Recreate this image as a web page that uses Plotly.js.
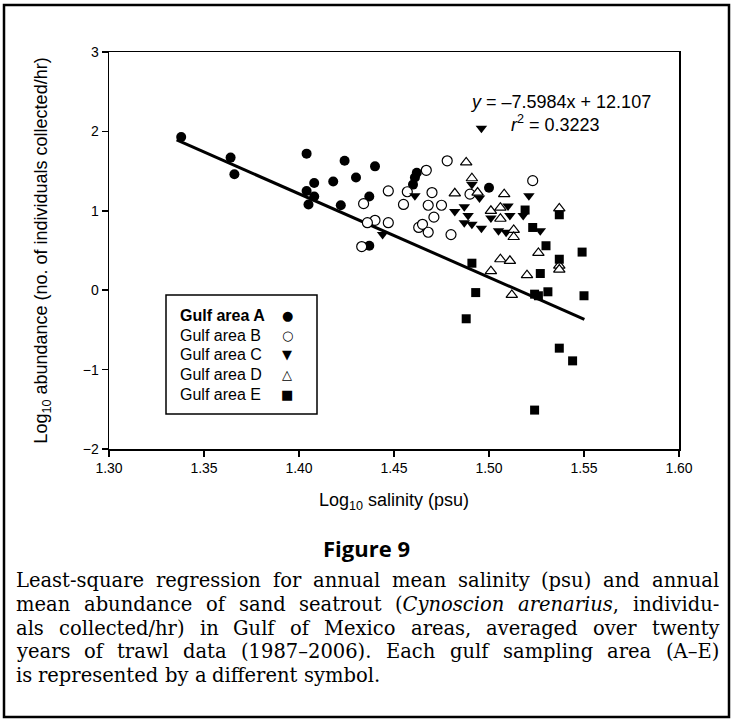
<!DOCTYPE html>
<html>
<head>
<meta charset="utf-8">
<script src="https://cdn.plot.ly/plotly-3.0.1.min.js"></script>
<style>html,body{margin:0;padding:0;background:#fff;}#chart{width:733px;height:721px;}</style>
</head>
<body>
<div id="chart"></div>
<script>
// ---- data ----
const areaA_x = [1.338,1.364,1.366,1.404,1.408,1.404,1.408,1.405,1.418,1.424,1.422,1.440,1.430,1.462,1.461,1.460,1.437,1.437,1.500];
const areaA_y = [1.93,1.67,1.46,1.72,1.35,1.25,1.18,1.08,1.37,1.63,1.07,1.56,1.42,1.48,1.42,1.33,1.18,0.56,1.29];

const areaB_x = [1.478,1.467,1.447,1.457,1.470,1.434,1.455,1.468,1.475,1.471,1.440,1.436,1.447,1.463,1.465,1.468,1.480,1.433,1.490,1.523];
const areaB_y = [1.63,1.51,1.25,1.24,1.23,1.09,1.08,1.07,1.07,0.92,0.88,0.85,0.85,0.79,0.83,0.73,0.70,0.55,1.21,1.38];

const areaC_x = [1.496,1.461,1.444,1.491,1.495,1.482,1.487,1.489,1.487,1.491,1.496,1.505,1.509,1.521,1.510,1.501,1.511,1.518,1.527];
const areaC_y = [2.04,1.19,0.70,1.33,1.16,0.99,1.05,0.94,0.85,0.83,0.78,0.75,0.73,1.19,1.06,0.91,0.94,0.94,0.75];

const areaD_x = [1.488,1.491,1.482,1.494,1.508,1.501,1.506,1.506,1.513,1.513,1.537,1.526,1.506,1.511,1.537,1.537,1.501,1.520,1.512];
const areaD_y = [1.61,1.41,1.22,1.23,1.21,1.00,1.04,0.90,0.76,0.67,1.03,0.47,0.39,0.37,0.31,0.26,0.24,0.19,-0.06];

const areaE_x = [1.519,1.537,1.523,1.530,1.549,1.491,1.537,1.527,1.493,1.526,1.531,1.550,1.488,1.537,1.544,1.524,1.524];
const areaE_y = [1.01,0.95,0.79,0.56,0.48,0.34,0.39,0.21,-0.03,-0.07,-0.02,-0.07,-0.36,-0.73,-0.89,-1.51,-0.05];

const fitX = [1.3356, 1.5502];
const fitY = [1.892, -0.366];

const legendLabels = ['Gulf area A','Gulf area B','Gulf area C','Gulf area D','Gulf area E'];
const legendGlyphs = ['\u25CF','\u25CB','\u25BC','\u25B3','\u25A0'];

const xTickVals = [1.30,1.35,1.40,1.45,1.50,1.55,1.60];
const yTickVals = [-2,-1,0,1,2,3];

const eqText = '<i>y</i> = \u20137.5984x + 12.107';
const r2Text = '<i>r</i><sup>2</sup> = 0.3223';

const figTitle = '<b>Figure 9</b>';
const captionLines = [
  'Least-square regression for annual mean salinity (psu) and annual',
  'mean abundance of sand seatrout (<i>Cynoscion arenarius</i>, individu-',
  'als collected/hr) in Gulf of Mexico areas, averaged over twenty',
  'years of trawl data (1987\u20132006). Each gulf sampling area (A\u2013E)',
  'is represented by a different symbol.'
];

// ---- layout helpers (pixel -> paper) ----
const L = 109, R = 679, T = 52, B = 449;
const W = 733, H = 721;
const pxX = p => (p - L) / (R - L);
const pxY = p => (B - p) / (B - T);

const SANS = 'Liberation Sans, Arial, sans-serif';
const SERIF = 'DejaVu Serif';
const CAP_SIZE = 19.5;

const traces = [
  {x: fitX, y: fitY, mode: 'lines', line: {color: '#000', width: 3}, hoverinfo: 'skip', showlegend: false},
  {x: areaA_x, y: areaA_y, mode: 'markers', name: legendLabels[0],
   marker: {symbol: 'circle', size: 10, color: '#000'}},
  {x: areaB_x, y: areaB_y, mode: 'markers', name: legendLabels[1],
   marker: {symbol: 'circle', size: 10, color: '#fff', line: {color: '#000', width: 1.2}}},
  {x: areaC_x, y: areaC_y, mode: 'markers', name: legendLabels[2],
   marker: {symbol: 'triangle-down', size: 10, color: '#000'}},
  {x: areaD_x, y: areaD_y, mode: 'markers', name: legendLabels[3],
   marker: {symbol: 'triangle-up', size: 10, color: '#fff', line: {color: '#000', width: 1.2}}},
  {x: areaE_x, y: areaE_y, mode: 'markers', name: legendLabels[4],
   marker: {symbol: 'square', size: 9, color: '#000'}}
];

const annotations = [];
annotations.push({xref: 'paper', yref: 'paper', x: pxX(468), y: pxY(102), xanchor: 'left', yanchor: 'middle',
  text: eqText, showarrow: false, font: {family: SANS, size: 18, color: '#000'}});
annotations.push({xref: 'paper', yref: 'paper', x: pxX(509), y: pxY(123), xanchor: 'left', yanchor: 'middle',
  text: r2Text, showarrow: false, font: {family: SANS, size: 18, color: '#000'}});

const legY = [315, 335, 354.5, 374, 394];
legendLabels.forEach((lab, i) => {
  annotations.push({xref: 'paper', yref: 'paper', x: pxX(178), y: pxY(legY[i]), xanchor: 'left', yanchor: 'middle',
    text: i === 0 ? '<b>' + lab + '</b>' : lab, showarrow: false, font: {family: SANS, size: 16, color: '#000'}});
  annotations.push({xref: 'paper', yref: 'paper', x: pxX(287), y: pxY(legY[i]), xanchor: 'center', yanchor: 'middle',
    text: legendGlyphs[i], showarrow: false, font: {family: 'DejaVu Sans', size: 13, color: '#000'}});
});

annotations.push({xref: 'paper', yref: 'paper', x: pxX(366), y: pxY(548), xanchor: 'center', yanchor: 'middle',
  text: figTitle, showarrow: false, font: {family: 'Open Sans, sans-serif', size: 22, color: '#000'}});

// caption: justified lines, word by word
const capY = [580, 604, 628, 651.5, 675];
const capLeft = 15, capRight = 718;
const cv = document.createElement('canvas').getContext('2d');
function measureWord(word, italicStart) {
  let it = italicStart, w = 0;
  const parts = word.split(/(<i>|<\/i>)/);
  parts.forEach(p => {
    if (p === '<i>') { it = true; return; }
    if (p === '</i>') { it = false; return; }
    if (!p) return;
    cv.font = (it ? 'italic ' : '') + CAP_SIZE + 'px "' + SERIF + '"';
    w += cv.measureText(p).width;
  });
  return {w: w, italicEnd: it};
}
captionLines.forEach((ln, li) => {
  const words = ln.split(' ');
  let it = false;
  const info = words.map(wd => {
    const start = it;
    const m = measureWord(wd, it);
    it = m.italicEnd;
    let txt = wd;
    if (start && !wd.startsWith('<i>')) txt = '<i>' + txt;
    if (m.italicEnd && !wd.endsWith('</i>')) txt = txt + '</i>';
    return {txt: txt, w: m.w};
  });
  cv.font = CAP_SIZE + 'px "' + SERIF + '"';
  const spaceW = cv.measureText(' ').width;
  const justify = li < captionLines.length - 1;
  const total = info.reduce((s, o) => s + o.w, 0);
  let gap = justify ? (capRight - capLeft - total) / (info.length - 1) : spaceW;
  if (gap < spaceW * 0.6) gap = spaceW * 0.6;
  let x = capLeft;
  info.forEach(o => {
    annotations.push({xref: 'paper', yref: 'paper', x: pxX(x - 1), y: pxY(capY[li]), xanchor: 'left', yanchor: 'middle',
      text: o.txt, showarrow: false, font: {family: SERIF, size: CAP_SIZE, color: '#000'}});
    x += o.w + gap;
  });
});

const shapes = [
  {type: 'rect', xref: 'paper', yref: 'paper', x0: pxX(4), x1: pxX(729), y0: pxY(5), y1: pxY(717),
   line: {color: '#000', width: 2.5}, layer: 'above'},
  {type: 'rect', xref: 'paper', yref: 'paper', x0: pxX(166), x1: pxX(317), y0: pxY(295), y1: pxY(414),
   line: {color: '#000', width: 1.5}, fillcolor: 'rgba(255,255,255,1)', layer: 'above'}
];

const layout = {
  width: W, height: H,
  margin: {l: L, r: W - R, t: T, b: H - B, pad: 0},
  paper_bgcolor: '#fff', plot_bgcolor: '#fff',
  showlegend: false,
  font: {family: SANS, color: '#000'},
  xaxis: {
    range: [1.30, 1.60], tickvals: xTickVals, tickformat: '.2f',
    showgrid: false, zeroline: false, showline: true, linecolor: '#000', linewidth: 1.5, mirror: true,
    ticks: 'outside', ticklen: 6, tickwidth: 1.5, tickcolor: '#000',
    tickfont: {family: SANS, size: 14, color: '#000'},
    title: {text: 'Log<sub>10</sub> salinity (psu)', font: {family: SANS, size: 18, color: '#000'}, standoff: 18}
  },
  yaxis: {
    range: [-2, 3], tickvals: yTickVals,
    showgrid: false, zeroline: false, showline: true, linecolor: '#000', linewidth: 1.5, mirror: true,
    ticks: 'outside', ticklen: 6, tickwidth: 1.5, tickcolor: '#000',
    tickfont: {family: SANS, size: 14, color: '#000'},
    title: {text: 'Log<sub>10</sub> abundance (no. of individuals collected/hr)', font: {family: SANS, size: 18, color: '#000'}, standoff: 30}
  },
  annotations: annotations,
  shapes: shapes
};

Plotly.newPlot('chart', traces, layout, {displayModeBar: false, staticPlot: true});
</script>
</body>
</html>
